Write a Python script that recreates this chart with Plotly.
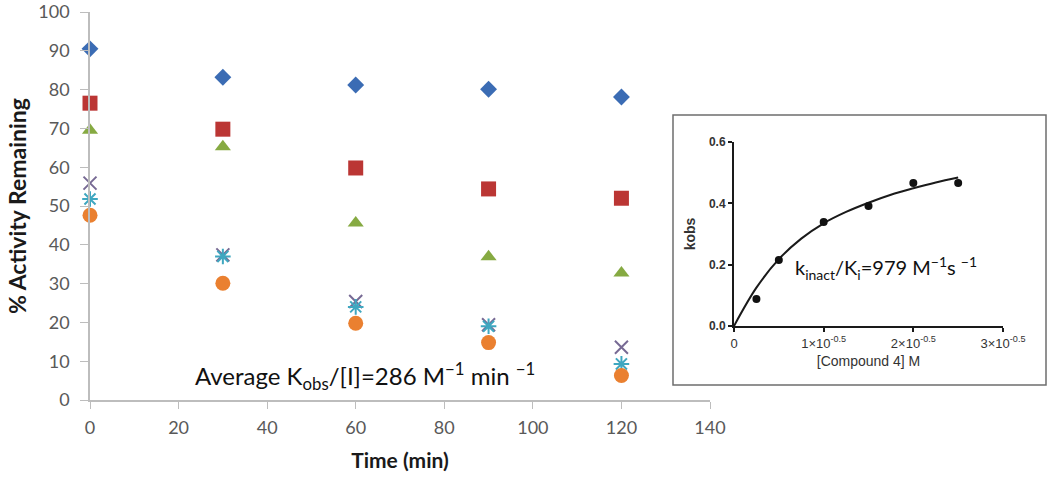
import plotly.graph_objects as go

# Main chart data
time_min = [0, 30, 60, 90, 120]
series_diamond = [90.5, 83.2, 81.2, 80.1, 78.1]
series_square = [76.5, 69.8, 59.8, 54.4, 52.0]
series_triangle = [69.5, 65.3, 45.6, 36.9, 32.7]
series_x = [55.9, 37.4, 25.4, 19.4, 13.6]
series_star = [51.8, 37.0, 24.0, 19.0, 9.3]
series_circle = [47.6, 30.1, 19.8, 14.8, 6.3]

x_ticks = [0, 20, 40, 60, 80, 100, 120, 140]
y_ticks = [0, 10, 20, 30, 40, 50, 60, 70, 80, 90, 100]

# Inset data (concentration in units of 1e-5 M on the axis scale)
inset_conc = [0.25, 0.5, 1.0, 1.5, 2.0, 2.5]
inset_kobs = [0.088, 0.215, 0.339, 0.391, 0.466, 0.466]
fit_conc = [0, 0.25, 0.5, 0.75, 1.0, 1.25, 1.5, 1.75, 2.0, 2.25, 2.5]
fit_kobs = [0, 0.125, 0.218, 0.285, 0.335, 0.372, 0.402, 0.428, 0.449, 0.468, 0.484]
inset_xticks = [0, 1, 2, 3]
inset_xticklabels = ["0", "1×10<sup>-0.5</sup>", "2×10<sup>-0.5</sup>", "3×10<sup>-0.5</sup>"]
inset_yticks = [0.0, 0.2, 0.4, 0.6]

W, H = 1050, 485

def px_x(p):
    return p / W

def px_y(p):
    return 1 - p / H

fig = go.Figure()

main_font = "Lato, 'Open Sans', sans-serif"
inset_font = "Liberation Sans, Arial, sans-serif"

styles = [
    (series_diamond, "diamond", "#3b6cb4", 13, None),
    (series_square, "square", "#bb3634", 15, None),
    (series_triangle, "triangle-up", "#86aa42", 14, None),
    (series_x, "x-thin-open", "#776a94", 13, 2),
    (series_star, "asterisk-open", "#3fa7c0", 13, 2),
    (series_circle, "circle", "#ea8030", 15, None),
]
for vals, sym, col, size, lw in styles:
    marker = dict(symbol=sym, color=col, size=size)
    if lw:
        marker["line"] = dict(color=col, width=lw)
    else:
        marker["line"] = dict(width=0)
    fig.add_trace(go.Scatter(x=time_min, y=vals, mode="markers", marker=marker,
                             xaxis="x", yaxis="y", showlegend=False, cliponaxis=False))

# inset
fig.add_trace(go.Scatter(x=fit_conc, y=fit_kobs, mode="lines", line=dict(color="#1a1a1a", width=2, shape="spline"),
                         xaxis="x2", yaxis="y2", showlegend=False))
fig.add_trace(go.Scatter(x=inset_conc, y=inset_kobs, mode="markers", marker=dict(color="#111111", size=8),
                         xaxis="x2", yaxis="y2", showlegend=False, cliponaxis=False))

fig.update_layout(
    width=W, height=H,
    margin=dict(l=0, r=0, t=0, b=0, autoexpand=False),
    paper_bgcolor="white", plot_bgcolor="rgba(0,0,0,0)",
    xaxis=dict(domain=[px_x(90), px_x(710)], range=[0, 140], tickvals=x_ticks, automargin=False,
               showgrid=False, zeroline=False, showline=True, linecolor="#bdbdbd", linewidth=1.5,
               ticks="outside", ticklen=7, tickcolor="#bdbdbd", ticklabelstandoff=4,
               ticklabeloverflow="allow",
               tickfont=dict(family=main_font, size=18, color="#595959"),
               title=dict(text="<b>Time (min)</b>", font=dict(family=main_font, size=21, color="#1a1a1a"), standoff=16),
               anchor="y"),
    yaxis=dict(domain=[px_y(400), px_y(12)], range=[0, 100], tickvals=y_ticks, automargin=False,
               showgrid=False, zeroline=False, showline=True, linecolor="#bdbdbd", linewidth=1.5,
               ticks="outside", ticklen=8, tickcolor="#bdbdbd", ticklabelstandoff=7,
               ticklabeloverflow="allow",
               tickfont=dict(family=main_font, size=18, color="#595959"),
               title=dict(text="<b>% Activity Remaining</b>", font=dict(family=main_font, size=23, color="#1a1a1a"), standoff=5),
               anchor="x"),
    xaxis2=dict(domain=[px_x(734), px_x(1003)], range=[0, 3], tickvals=inset_xticks, ticktext=inset_xticklabels,
                automargin=False,
                showgrid=False, zeroline=False, showline=True, linecolor="#1a1a1a", linewidth=2,
                ticks="outside", ticklen=4, tickwidth=2, tickcolor="#1a1a1a",
                tickfont=dict(family=inset_font, size=13, color="#333333"),
                title=dict(text="[Compound 4] M", font=dict(family=inset_font, size=14, color="#333333"), standoff=7),
                anchor="y2"),
    yaxis2=dict(domain=[px_y(326), px_y(142)], range=[0, 0.6], tickvals=inset_yticks, tickformat=".1f",
                automargin=False,
                showgrid=False, zeroline=False, showline=True, linecolor="#1a1a1a", linewidth=2,
                ticks="outside", ticklen=4, tickwidth=2, tickcolor="#1a1a1a",
                tickfont=dict(family=inset_font, size=12, color="#333333", weight="bold"),
                title=dict(text="<b>kobs</b>", font=dict(family=inset_font, size=14, color="#333333"), standoff=10),
                anchor="x2"),
    shapes=[dict(type="rect", xref="paper", yref="paper",
                 x0=px_x(673), x1=px_x(1046), y0=px_y(385), y1=px_y(115),
                 line=dict(color="#6e6e6e", width=1.5), fillcolor="white", layer="below")],
    annotations=[
        dict(text="Average K<sub>obs</sub>/[I]=286 M<sup>−1</sup> min <sup>−1</sup>", xref="paper", yref="paper",
             x=px_x(365), y=px_y(376), showarrow=False, xanchor="center", yanchor="middle",
             font=dict(family=main_font, size=24, color="#111111")),
        dict(text="k<sub>inact</sub>/K<sub>i</sub>=979 M<sup>−1</sup>s <sup>−1</sup>", xref="paper", yref="paper",
             x=px_x(886), y=px_y(268), showarrow=False, xanchor="center", yanchor="middle",
             font=dict(family=main_font, size=20, color="#111111")),
    ],
)

# remove the default 8px body margin so the figure fills the 1050x485 window exactly
fig.write_html("out.html", config={"displayModeBar": False},
               post_script="document.body.style.margin='0';")
